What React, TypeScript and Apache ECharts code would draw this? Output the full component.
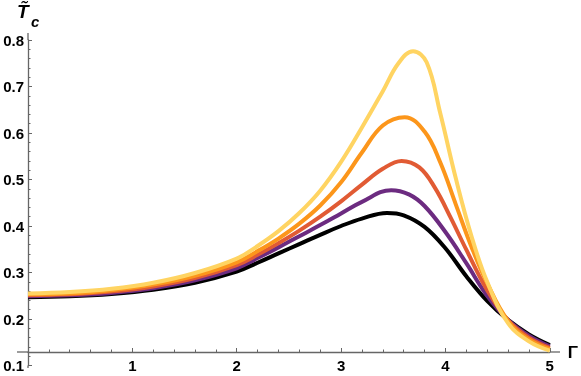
import React, { useEffect, useRef } from "react";
import * as echarts from "echarts";

const blackX = [0, 0.4, 0.8, 1.2, 1.6, 2.0, 2.2, 2.4, 2.6, 2.8, 3.0, 3.2, 3.44, 3.6, 3.8, 4.0, 4.2, 4.4, 4.6, 4.8, 5.0];
const blackY = [0.247, 0.249, 0.254, 0.263, 0.278, 0.302, 0.321, 0.341, 0.361, 0.381, 0.4, 0.416, 0.428, 0.423, 0.398, 0.352, 0.292, 0.239, 0.198, 0.167, 0.144];

const purpleX = [0, 0.4, 0.8, 1.2, 1.6, 2.0, 2.2, 2.4, 2.6, 2.8, 3.0, 3.2, 3.48, 3.65, 3.8, 4.0, 4.2, 4.4, 4.6, 4.8, 5.0];
const purpleY = [0.249, 0.251, 0.256, 0.266, 0.283, 0.309, 0.331, 0.354, 0.378, 0.402, 0.427, 0.452, 0.477, 0.468, 0.443, 0.387, 0.32, 0.25, 0.198, 0.164, 0.141];

const redX = [0, 0.4, 0.8, 1.2, 1.6, 2.0, 2.2, 2.4, 2.6, 2.8, 3.0, 3.2, 3.4, 3.58, 3.75, 3.9, 4.05, 4.2, 4.4, 4.6, 4.8, 5.0];
const redY = [0.251, 0.253, 0.259, 0.27, 0.288, 0.316, 0.338, 0.363, 0.39, 0.42, 0.453, 0.489, 0.523, 0.54, 0.526, 0.482, 0.418, 0.349, 0.262, 0.197, 0.16, 0.138];

const orangeX = [0, 0.4, 0.8, 1.2, 1.6, 2.0, 2.2, 2.4, 2.6, 2.8, 3.0, 3.2, 3.4, 3.61, 3.8, 3.95, 4.1, 4.25, 4.4, 4.6, 4.8, 5.0];
const orangeY = [0.253, 0.255, 0.262, 0.274, 0.293, 0.322, 0.346, 0.373, 0.405, 0.444, 0.494, 0.558, 0.616, 0.634, 0.603, 0.537, 0.446, 0.355, 0.277, 0.196, 0.156, 0.135];

const yellowX = [0, 0.4, 0.8, 1.2, 1.6, 2.0, 2.2, 2.4, 2.6, 2.8, 3.0, 3.2, 3.4, 3.55, 3.69, 3.82, 3.95, 4.1, 4.25, 4.4, 4.6, 4.8, 5.0];
const yellowY = [0.255, 0.258, 0.265, 0.278, 0.299, 0.33, 0.357, 0.389, 0.428, 0.476, 0.538, 0.612, 0.69, 0.75, 0.776, 0.752, 0.643, 0.502, 0.378, 0.28, 0.191, 0.152, 0.132];

const seriesNames = ["black", "purple", "red", "orange", "yellow"];
const seriesColors = ["#000000", "#6c2b80", "#e15b34", "#fc961b", "#ffd462"];
const seriesXs = [blackX, purpleX, redX, orangeX, yellowX];
const seriesYs = [blackY, purpleY, redY, orangeY, yellowY];

const AXIS_COLOR = "#666666";
const FONT = "Liberation Sans, Arial, sans-serif";

export default function App() {
  const ref = useRef<HTMLDivElement>(null);
  useEffect(() => {
    if (!ref.current) return;
    const chart = echarts.init(ref.current, undefined, { renderer: "svg" });
    const gridLeft = 28;
    const gridRight = 31;
    const gridTop = 40;
    const gridBottom = 10.5;
    const axisY = 352;
    const W = 581;
    const H = 376;
    chart.setOption({
      animation: false,
      grid: { left: gridLeft, right: gridRight, top: gridTop, bottom: gridBottom, containLabel: false },
      xAxis: {
        type: "value",
        min: 0,
        max: 5,
        interval: 1,
        offset: -(H - gridBottom - axisY),
        name: "Γ",
        nameLocation: "end",
        nameGap: 18,
        nameTextStyle: { fontFamily: FONT, fontWeight: "bold", fontSize: 17, color: "#000" },
        axisLine: { show: true, onZero: false, lineStyle: { color: AXIS_COLOR, width: 1.3 } },
        axisTick: { show: true, inside: true, length: 4, lineStyle: { color: AXIS_COLOR, width: 1 } },
        minorTick: { show: true, splitNumber: 5, length: 2.5, lineStyle: { color: AXIS_COLOR, width: 1 } },
        splitLine: { show: false },
        axisLabel: {
          margin: 6,
          fontFamily: FONT,
          fontWeight: "bold",
          fontSize: 15,
          color: "#000",
          formatter: (v: number) => (v === 0 ? "" : String(v)),
        },
      },
      yAxis: {
        type: "value",
        min: 0.1,
        max: 0.8,
        interval: 0.1,
        axisLine: { show: true, onZero: false, lineStyle: { color: AXIS_COLOR, width: 1.3 } },
        axisTick: { show: true, inside: true, length: 4, lineStyle: { color: AXIS_COLOR, width: 1 } },
        minorTick: { show: true, splitNumber: 5, length: 2.5, lineStyle: { color: AXIS_COLOR, width: 1 } },
        splitLine: { show: false },
        axisLabel: {
          margin: 4,
          fontFamily: FONT,
          fontWeight: "bold",
          fontSize: 15,
          color: "#000",
          formatter: (v: number) => v.toFixed(1),
        },
      },
      graphic: [
        { type: "line", shape: { x1: 17, y1: axisY, x2: gridLeft, y2: axisY }, style: { stroke: AXIS_COLOR, lineWidth: 1.3 }, silent: true },
        { type: "line", shape: { x1: W - gridRight, y1: axisY, x2: 560, y2: axisY }, style: { stroke: AXIS_COLOR, lineWidth: 1.3 }, silent: true },
        { type: "line", shape: { x1: gridLeft, y1: 33, x2: gridLeft, y2: gridTop }, style: { stroke: AXIS_COLOR, lineWidth: 1.3 }, silent: true },
        { type: "line", shape: { x1: gridLeft, y1: H - gridBottom, x2: gridLeft, y2: 368 }, style: { stroke: AXIS_COLOR, lineWidth: 1.3 }, silent: true },
        {
          type: "text",
          left: 17,
          top: 2,
          style: { text: "T\u0303", font: "italic bold 19px " + FONT, fill: "#000" },
        },
        {
          type: "text",
          left: 31,
          top: 14,
          style: { text: "c", font: "italic bold 15px " + FONT, fill: "#000" },
        },
      ],
      series: seriesNames.map((name, i) => ({
        name,
        type: "line",
        data: seriesXs[i].map((x, j) => [x, seriesYs[i][j]]),
        smooth: 0.4,
        showSymbol: false,
        symbol: "none",
        lineStyle: { color: seriesColors[i], width: 4 },
        z: 2 + i,
      })),
    });
    return () => chart.dispose();
  }, []);
  return <div ref={ref} style={{ position: "fixed", left: 0, top: 0, width: 581, height: 376 }} />;
}
